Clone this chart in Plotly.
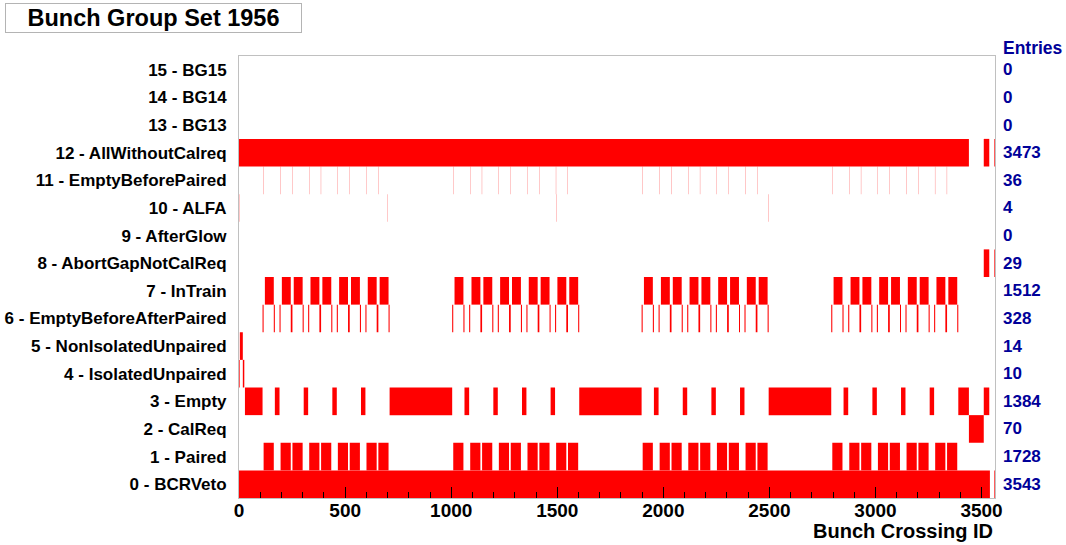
import plotly.graph_objects as go

# ---------------- data (BCID intervals, inclusive) ----------------
row_labels = ["0 - BCRVeto", "1 - Paired", "2 - CalReq", "3 - Empty",
              "4 - IsolatedUnpaired", "5 - NonIsolatedUnpaired",
              "6 - EmptyBeforeAfterPaired", "7 - InTrain",
              "8 - AbortGapNotCalReq", "9 - AfterGlow", "10 - ALFA",
              "11 - EmptyBeforePaired", "12 - AllWithoutCalreq",
              "13 - BG13", "14 - BG14", "15 - BG15"]
entries = [3543, 1728, 70, 1384, 10, 14, 328, 1512, 29, 0, 4, 36, 3473, 0, 0, 0]

bcr_veto = [[0, 3539], [3561, 3563]]

paired = [[116, 163], [196, 243], [252, 299], [331, 378], [387, 434], [466, 513], [522, 569], [601, 648], [657, 704],
          [1010, 1057], [1090, 1137], [1146, 1193], [1225, 1272], [1281, 1328], [1360, 1407], [1416, 1463], [1495, 1542], [1551, 1598],
          [1903, 1950], [1983, 2030], [2039, 2086], [2118, 2165], [2174, 2221], [2253, 2300], [2309, 2356], [2388, 2435], [2444, 2491],
          [2797, 2844], [2877, 2924], [2933, 2980], [3012, 3059], [3068, 3115], [3147, 3194], [3203, 3250], [3282, 3329], [3338, 3385]]

cal_req = [[3441, 3510]]

empty = [[28, 110], [169, 190], [305, 325], [440, 460], [575, 595], [710, 1004],
         [1063, 1084], [1199, 1219], [1334, 1354], [1469, 1489], [1604, 1897],
         [1956, 1977], [2092, 2112], [2227, 2247], [2362, 2382], [2497, 2791],
         [2850, 2871], [2986, 3006], [3121, 3141], [3256, 3276], [3391, 3440], [3511, 3536]]

isolated_unpaired = [[1, 3], [18, 24]]

non_isolated_unpaired = [[4, 17]]

empty_before_after_paired = [
    [111, 115], [164, 168], [191, 195], [244, 251], [300, 304], [326, 330], [379, 386], [435, 439], [461, 465], [514, 521], [570, 574], [596, 600], [649, 656], [705, 709],
    [1005, 1009], [1058, 1062], [1085, 1089], [1138, 1145], [1194, 1198], [1220, 1224], [1273, 1280], [1329, 1333], [1355, 1359], [1408, 1415], [1464, 1468], [1490, 1494], [1543, 1550], [1599, 1603],
    [1898, 1902], [1951, 1955], [1978, 1982], [2031, 2038], [2087, 2091], [2113, 2117], [2166, 2173], [2222, 2226], [2248, 2252], [2301, 2308], [2357, 2361], [2383, 2387], [2436, 2443], [2492, 2496],
    [2792, 2796], [2845, 2849], [2872, 2876], [2925, 2932], [2981, 2985], [3007, 3011], [3060, 3067], [3116, 3120], [3142, 3146], [3195, 3202], [3251, 3255], [3277, 3281], [3330, 3337], [3386, 3390]]

in_train = [[122, 163], [202, 243], [258, 299], [337, 378], [393, 434], [472, 513], [528, 569], [607, 648], [663, 704],
            [1016, 1057], [1096, 1137], [1152, 1193], [1231, 1272], [1287, 1328], [1366, 1407], [1422, 1463], [1501, 1542], [1557, 1598],
            [1909, 1950], [1989, 2030], [2045, 2086], [2124, 2165], [2180, 2221], [2259, 2300], [2315, 2356], [2394, 2435], [2450, 2491],
            [2803, 2844], [2883, 2924], [2939, 2980], [3018, 3059], [3074, 3115], [3153, 3194], [3209, 3250], [3288, 3329], [3344, 3385]]

abort_gap_not_cal_req = [[3511, 3536], [3561, 3563]]

after_glow = []

alfa = [[1, 1], [698, 698], [1496, 1496], [2496, 2496]]

empty_before_paired = [[115, 115], [195, 195], [251, 251], [330, 330], [386, 386], [465, 465], [521, 521], [600, 600], [656, 656],
                       [1009, 1009], [1089, 1089], [1145, 1145], [1224, 1224], [1280, 1280], [1359, 1359], [1415, 1415], [1494, 1494], [1550, 1550],
                       [1902, 1902], [1982, 1982], [2038, 2038], [2117, 2117], [2173, 2173], [2252, 2252], [2308, 2308], [2387, 2387], [2443, 2443],
                       [2796, 2796], [2876, 2876], [2932, 2932], [3011, 3011], [3067, 3067], [3146, 3146], [3202, 3202], [3281, 3281], [3337, 3337]]

all_without_calreq = [[0, 3440], [3511, 3536], [3561, 3563]]

bg13 = []
bg14 = []
bg15 = []

rows = [bcr_veto, paired, cal_req, empty, isolated_unpaired, non_isolated_unpaired,
        empty_before_after_paired, in_train, abort_gap_not_cal_req, after_glow, alfa,
        empty_before_paired, all_without_calreq, bg13, bg14, bg15]

x_ticks = [0, 500, 1000, 1500, 2000, 2500, 3000, 3500]

# ---------------- figure ----------------
FONT = "Liberation Sans, Arial, Helvetica, sans-serif"
BLUE = "#000099"

fig = go.Figure()
for i, ivs in enumerate(rows):
    if not ivs:
        continue
    fig.add_trace(go.Bar(
        orientation="h",
        y=[i] * len(ivs),
        base=[a - 0.5 for a, b in ivs],
        x=[b - a + 1 for a, b in ivs],
        width=1,
        marker=dict(color="rgba(255,0,0,0.999)", line=dict(width=0)),
        hoverinfo="skip",
        showlegend=False,
    ))

annotations = []
# title box
annotations.append(dict(
    text="<b>Bunch Group Set 1956</b>", xref="paper", yref="paper",
    x=(153.5 - 239) / 756, y=(498 - 18) / 442, xanchor="center", yanchor="middle",
    showarrow=False, font=dict(family=FONT, size=23.5, color="black"),
    width=295, height=28, bordercolor="#b4b4b4", borderwidth=1, borderpad=0,
    bgcolor="white"))
# entries header
annotations.append(dict(
    text="<b>Entries</b>", xref="paper", yref="paper",
    x=(1001 - 239) / 756, y=(498 - 48) / 442, xanchor="left", yanchor="middle",
    showarrow=False, font=dict(family=FONT, size=17.5, color=BLUE)))
for i, n in enumerate(entries):
    annotations.append(dict(
        text="<b>%d</b>" % n, xref="paper", yref="y",
        x=(1001 - 239) / 756, y=i, xanchor="left", yanchor="middle",
        showarrow=False, font=dict(family=FONT, size=17, color=BLUE)))
# x axis title (right aligned)
annotations.append(dict(
    text="<b>Bunch Crossing ID</b>", xref="paper", yref="paper",
    x=1.0, y=(498 - 531) / 442, xanchor="right", yanchor="middle",
    showarrow=False, font=dict(family=FONT, size=20, color="black")))

fig.update_layout(
    width=1066, height=545,
    margin=dict(l=239, r=71, t=56, b=47, pad=0, autoexpand=False),
    paper_bgcolor="white", plot_bgcolor="white",
    barmode="overlay", bargap=0.2,
    font=dict(family=FONT, color="black"),
    annotations=annotations,
    xaxis=dict(
        range=[-0.5, 3563.5], tickvals=x_ticks, ticktext=[str(v) for v in x_ticks],
        ticks="inside", ticklen=11, tickwidth=1, tickcolor="black",
        minor=dict(dtick=100, tick0=0, ticks="inside", ticklen=6, tickwidth=1, tickcolor="black", showgrid=False),
        showgrid=False, zeroline=False,
        showline=True, linecolor="#c0c0c0", linewidth=1, mirror=True,
        tickfont=dict(family=FONT, size=19, color="black", weight="bold"),
        ticklabelstandoff=-5,
        automargin=False,
        fixedrange=True,
    ),
    yaxis=dict(
        range=[-0.5, 15.5], tickvals=list(range(16)), ticktext=row_labels,
        ticks="", showgrid=False, zeroline=False,
        showline=True, linecolor="#c0c0c0", linewidth=1, mirror=True,
        tickfont=dict(family=FONT, size=17, color="black", weight="bold"),
        ticklabelstandoff=8,
        automargin=False,
        fixedrange=True,
    ),
)

fig.write_html("out.html")
